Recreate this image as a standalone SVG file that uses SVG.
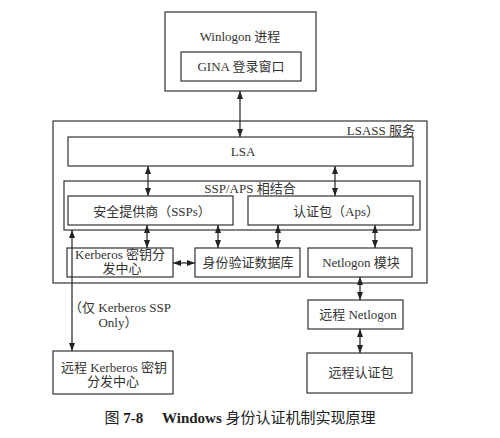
<svg xmlns="http://www.w3.org/2000/svg" width="500" height="438" viewBox="0 0 500 438">
<defs>
<marker id="ah" viewBox="0 0 8 6" refX="8" refY="3" markerWidth="8" markerHeight="6" markerUnits="userSpaceOnUse" orient="auto-start-reverse">
<path d="M0,0 L8,3 L0,6 Z" fill="#222"/>
</marker>
</defs>
<style>
rect{fill:none;stroke:#333;stroke-width:1.2}
text{font-family:"Liberation Serif","Noto Sans CJK SC",serif;font-size:13px;fill:#333;text-anchor:middle}
.c line{stroke:#222;stroke-width:1.2;marker-start:url(#ah);marker-end:url(#ah)}
</style>
<rect x="0" y="0" width="500" height="438" style="fill:#fff;stroke:none"/>
<g id="winlogon">
<rect x="165" y="12" width="151" height="79"/>
<text x="240" y="41">Winlogon 进程</text>
</g>
<g id="gina">
<rect x="181" y="52" width="120" height="29"/>
<text x="241" y="71">GINA 登录窗口</text>
</g>
<g id="lsass">
<rect x="53" y="121" width="374" height="162"/>
<text x="415" y="135" style="text-anchor:end">LSASS 服务</text>
</g>
<g id="lsa">
<rect x="68" y="137" width="345" height="29"/>
<text x="243" y="156">LSA</text>
</g>
<g id="sspaps">
<rect x="64" y="181" width="356" height="49"/>
<text x="250" y="193">SSP/APS 相结合</text>
</g>
<g id="ssps">
<rect x="68" y="196" width="165" height="29"/>
<text x="152" y="216">安全提供商（SSPs）</text>
</g>
<g id="aps">
<rect x="248" y="196" width="165" height="29"/>
<text x="336" y="216">认证包（Aps）</text>
</g>
<g id="kdc">
<rect x="67" y="248" width="106" height="29"/>
<text x="120" y="259">Kerberos 密钥分</text>
<text x="122" y="273">发中心</text>
</g>
<g id="authdb">
<rect x="195" y="248" width="105" height="29"/>
<text x="248" y="267">身份验证数据库</text>
</g>
<g id="netlogon">
<rect x="308" y="248" width="104" height="29"/>
<text x="361" y="267">Netlogon 模块</text>
</g>
<g id="remote-netlogon">
<rect x="308" y="300" width="95" height="29"/>
<text x="358" y="319">远程 Netlogon</text>
</g>
<g id="remote-kdc">
<rect x="53" y="351" width="120" height="43"/>
<text x="114" y="372">远程 Kerberos 密钥</text>
<text x="113" y="386">分发中心</text>
</g>
<g id="remote-ap">
<rect x="307" y="353" width="105" height="40"/>
<text x="361" y="377">远程认证包</text>
</g>
<g id="note">
<text x="120" y="312">（仅 Kerberos SSP</text>
<text x="118" y="327">Only）</text>
</g>
<g class="c" id="connectors">
<line x1="240" y1="91" x2="240" y2="137"/>
<line x1="148" y1="166" x2="148" y2="196"/>
<line x1="335" y1="166" x2="335" y2="196"/>
<line x1="147" y1="225" x2="147" y2="248"/>
<line x1="218" y1="225" x2="218" y2="248"/>
<line x1="278" y1="225" x2="278" y2="248"/>
<line x1="375" y1="225" x2="375" y2="248"/>
<line x1="173" y1="263" x2="195" y2="263"/>
<line x1="360" y1="277" x2="360" y2="300"/>
<line x1="360" y1="329" x2="360" y2="353"/>
<line x1="72" y1="230" x2="72" y2="351"/>
</g>
<text x="240" y="423" style="font-size:15px;fill:#222">图 <tspan font-weight="bold">7-8</tspan>　 <tspan font-weight="bold">Windows</tspan> 身份认证机制实现原理</text>
</svg>
